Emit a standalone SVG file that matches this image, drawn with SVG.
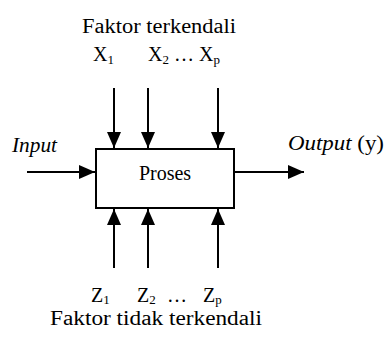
<svg xmlns="http://www.w3.org/2000/svg" width="386" height="338" viewBox="0 0 386 338">
<style>
.t{fill:#000;font-size:20px;font-family:"Liberation Serif","Times New Roman","DejaVu Serif",serif}
.it{font-style:italic}
.sub{font-size:13px}
.ln{stroke:#000;stroke-width:2;fill:none}
</style>
<defs>
<marker id="ah" viewBox="0 0 16 14" refX="16" refY="7" markerWidth="16" markerHeight="14" markerUnits="userSpaceOnUse" orient="auto">
<path d="M0,0 L16,7 L0,14 Z" fill="#000"/>
</marker>
</defs>
<rect width="386" height="338" fill="#fff"/>
<g id="top-label">
<text class="t" x="82" y="33" textLength="154" lengthAdjust="spacingAndGlyphs">Faktor terkendali</text>
<text class="t" x="93" y="61">X<tspan class="sub" dy="3">1</tspan></text>
<text class="t" x="148" y="61">X<tspan class="sub" dy="3">2</tspan><tspan dy="-3"> … X</tspan><tspan class="sub" dy="3">p</tspan></text>
</g>
<g id="proses">
<rect x="96" y="149" width="138" height="59" fill="#fff" stroke="#000" stroke-width="2"/>
<text class="t" x="165" y="180" text-anchor="middle">Proses</text>
</g>
<g id="input-label"><text class="t it" x="12" y="152" textLength="45" lengthAdjust="spacingAndGlyphs">Input</text></g>
<g id="output-label"><text class="t" x="288" y="150" textLength="96" lengthAdjust="spacingAndGlyphs"><tspan class="it">Output</tspan> (y)</text></g>
<g id="bottom-label">
<text class="t" x="91" y="302">Z<tspan class="sub" dy="2">1</tspan></text>
<text class="t" x="137" y="302">Z<tspan class="sub" dy="2">2</tspan></text>
<text class="t" x="167" y="302">…</text>
<text class="t" x="203" y="302">Z<tspan class="sub" dy="2">p</tspan></text>
<text class="t" x="50" y="325" textLength="212" lengthAdjust="spacingAndGlyphs">Faktor tidak terkendali</text>
</g>
<g id="connectors">
<line class="ln" x1="114" y1="88" x2="114" y2="148" marker-end="url(#ah)"/>
<line class="ln" x1="148" y1="88" x2="148" y2="148" marker-end="url(#ah)"/>
<line class="ln" x1="218" y1="88" x2="218" y2="148" marker-end="url(#ah)"/>
<line class="ln" x1="114" y1="268" x2="114" y2="209" marker-end="url(#ah)"/>
<line class="ln" x1="148" y1="268" x2="148" y2="209" marker-end="url(#ah)"/>
<line class="ln" x1="218" y1="268" x2="218" y2="209" marker-end="url(#ah)"/>
<line class="ln" x1="27" y1="172" x2="95" y2="172" marker-end="url(#ah)"/>
<line class="ln" x1="235" y1="172" x2="304" y2="172" marker-end="url(#ah)"/>
</g>
</svg>
